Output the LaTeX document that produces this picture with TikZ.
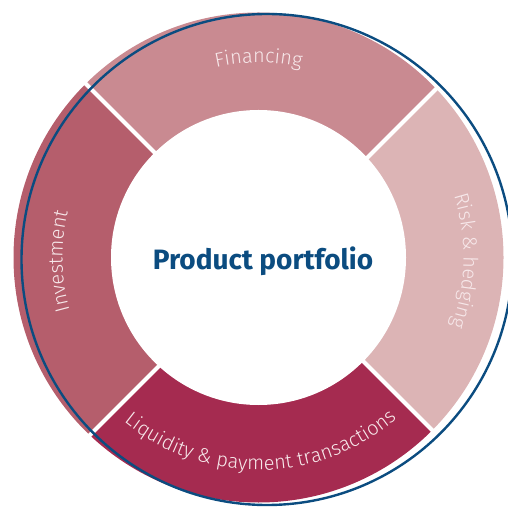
\documentclass[tikz,border=0pt]{standalone}
\usepackage{fontspec}
\setmainfont{Fira Sans}
\newfontfamily\lightfont{Fira Sans Light}
\usetikzlibrary{decorations.text}
\definecolor{finc}{HTML}{C98A91}
\definecolor{riskc}{HTML}{DCB4B5}
\definecolor{liqc}{HTML}{A52B50}
\definecolor{invc}{HTML}{B55E6C}
\definecolor{ringblue}{HTML}{0B4C80}
\definecolor{lblc}{HTML}{F7E8EA}
\begin{document}
\begin{tikzpicture}[x=1pt,y=1pt,
  divider/.style={draw=white,line width=4pt},
  bluering/.style={draw=ringblue,line width=2.4pt},
  arclabel/.style={decorate,decoration={text along path,text align=center}}]
\useasboundingbox (0,0) rectangle (508,506);
\coordinate (C) at (258.5,248.5);
\coordinate (D) at (263.5,244.5);
\coordinate (B) at (267,246.5);
% sectors
\begin{scope}
\clip (C) circle[radius=245];
\fill[finc] (D) -- ([shift={(45:400)}]D) -- ([shift={(135:400)}]D) -- cycle;
\fill[riskc] (D) -- ([shift={(-45:400)}]D) -- ([shift={(45:400)}]D) -- cycle;
\fill[liqc] (D) -- ([shift={(225:400)}]D) -- ([shift={(315:400)}]D) -- cycle;
\fill[invc] (D) -- ([shift={(135:400)}]D) -- ([shift={(225:400)}]D) -- cycle;
\end{scope}
\fill[white] (C) circle[radius=147.5];
% dividers
\foreach \a in {45,135,225,315}
  \draw[divider] ([shift={(\a:140)}]D) -- ([shift={(\a:265)}]D);
% blue circle
\draw[bluering] (B) circle[radius=245.5];
% labels
\path[arclabel,decoration={text={|\lightfont\fontsize{20}{20}\selectfont\color{lblc}|Financing}}]
  ([shift={(125:195)}]C) arc[start angle=125,end angle=55,radius=195];
\path[arclabel,decoration={text={|\lightfont\fontsize{20}{20}\selectfont\color{lblc}|Risk {\&} hedging}}]
  ([shift={(40:205)}]C) arc[start angle=40,end angle=-42,radius=205];
\path[arclabel,decoration={text={|\lightfont\fontsize{20}{20}\selectfont\color{lblc}|Investment}}]
  ([shift={(221:196)}]C) arc[start angle=221,end angle=141,radius=196];
\path[arclabel,decoration={text={|\lightfont\fontsize{20}{20}\selectfont\color{lblc}|Liquidity {\&} payment transactions}}]
  ([shift={(222:212.5)}]C) arc[start angle=222,end angle=319.4,radius=212.5];
% title
\node[anchor=base,text=ringblue,font=\bfseries\fontsize{28}{28}\selectfont,inner sep=0pt] (title) at (263,236) {Product portfolio};
\end{tikzpicture}
\end{document}
